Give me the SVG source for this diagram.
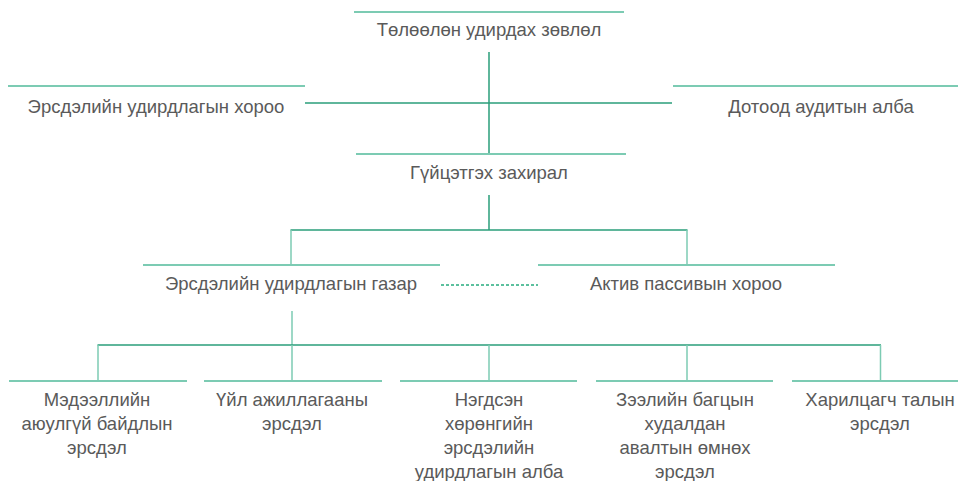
<svg xmlns="http://www.w3.org/2000/svg" width="958" height="481" viewBox="0 0 958 481">
<style>
.bg{fill:#ffffff}
.top{stroke:#7ccbb3;stroke-width:2;fill:none}
.c{stroke:#2a9e7a;stroke-width:1.5;fill:none}
.cl{stroke:#7ccbb3;stroke-width:1.5;fill:none}
.dot{stroke:#5cc09e;stroke-width:2;stroke-dasharray:3 2;fill:none}
text{font-family:"Liberation Sans",Arial,sans-serif;font-size:18.5px;fill:#5a5a5a;text-anchor:middle}
</style>
<rect class="bg" x="0" y="0" width="958" height="481"/>
<g id="connectors">
<line class="c" x1="489" y1="52" x2="489" y2="154"/>
<line class="c" x1="305" y1="103" x2="672" y2="103"/>
<line class="c" x1="489" y1="195" x2="489" y2="230"/>
<line class="c" x1="290.5" y1="230" x2="687.5" y2="230"/>
<line class="cl" x1="291" y1="230" x2="291" y2="265"/>
<line class="cl" x1="687" y1="230" x2="687" y2="265"/>
<line class="dot" x1="441" y1="285" x2="538" y2="285"/>
<line class="cl" x1="292" y1="311" x2="292" y2="345"/>
<line class="c" x1="97.5" y1="345" x2="881" y2="345"/>
<line class="cl" x1="98" y1="345" x2="98" y2="381"/>
<line class="cl" x1="292" y1="345" x2="292" y2="381"/>
<line class="cl" x1="489" y1="345" x2="489" y2="381"/>
<line class="cl" x1="687" y1="345" x2="687" y2="381"/>
<line class="cl" x1="880.5" y1="345" x2="880.5" y2="381"/>
</g>
<g id="n-board">
<line class="top" x1="354" y1="12" x2="624" y2="12"/>
<text x="489" y="36">Төлөөлөн удирдах зөвлөл</text>
</g>
<g id="n-risk-committee">
<line class="top" x1="8" y1="86" x2="305" y2="86"/>
<text x="156" y="112.5">Эрсдэлийн удирдлагын хороо</text>
</g>
<g id="n-audit">
<line class="top" x1="673" y1="86" x2="970" y2="86"/>
<text x="821" y="112.5">Дотоод аудитын алба</text>
</g>
<g id="n-ceo">
<line class="top" x1="356" y1="154" x2="626" y2="154"/>
<text x="489" y="179">Гүйцэтгэх захирал</text>
</g>
<g id="n-risk-dept">
<line class="top" x1="143" y1="265" x2="440" y2="265"/>
<text x="291" y="290">Эрсдэлийн удирдлагын газар</text>
</g>
<g id="n-alco">
<line class="top" x1="538" y1="265" x2="835" y2="265"/>
<text x="686" y="290">Актив пассивын хороо</text>
</g>
<g id="n-info">
<line class="top" x1="9" y1="381" x2="187" y2="381"/>
<text x="97" y="406">Мэдээллийн</text>
<text x="97" y="430">аюулгүй байдлын</text>
<text x="97" y="454">эрсдэл</text>
</g>
<g id="n-oper">
<line class="top" x1="204" y1="381" x2="382" y2="381"/>
<text x="292" y="406">Үйл ажиллагааны</text>
<text x="292" y="430">эрсдэл</text>
</g>
<g id="n-asset">
<line class="top" x1="400" y1="381" x2="577" y2="381"/>
<text x="489" y="406">Нэгдсэн</text>
<text x="489" y="430">хөрөнгийн</text>
<text x="489" y="454">эрсдэлийн</text>
<text x="489" y="478">удирдлагын алба</text>
</g>
<g id="n-loan">
<line class="top" x1="596" y1="381" x2="773" y2="381"/>
<text x="685" y="406">Зээлийн багцын</text>
<text x="685" y="430">худалдан</text>
<text x="685" y="454">авалтын өмнөх</text>
<text x="685" y="478">эрсдэл</text>
</g>
<g id="n-counterparty">
<line class="top" x1="792" y1="381" x2="970" y2="381"/>
<text x="880" y="406">Харилцагч талын</text>
<text x="880" y="430">эрсдэл</text>
</g>
</svg>
